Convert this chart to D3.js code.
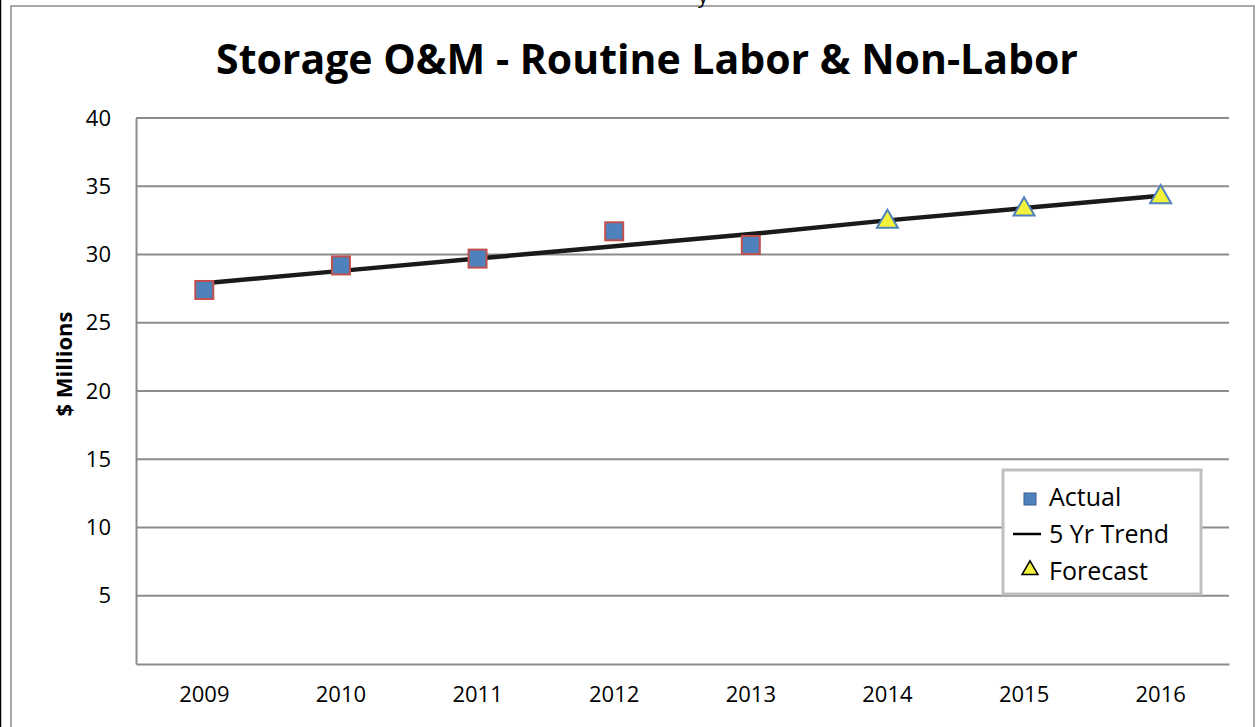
<!DOCTYPE html>
<html>
<head>
<meta charset="utf-8">
<script src="https://cdn.jsdelivr.net/npm/d3@7"></script>
<style>
  body { margin: 0; background: #fff; }
  text { font-family: "Open Sans", "Noto Sans", sans-serif; fill: #000; }
</style>
</head>
<body>
<div id="chart"></div>
<script>
const years = ["2009", "2010", "2011", "2012", "2013", "2014", "2015", "2016"]
const actualYears = ["2009", "2010", "2011", "2012", "2013"]
const actualValues = [27.4, 29.2, 29.7, 31.7, 30.7]
const forecastYears = ["2014", "2015", "2016"]
const forecastValues = [32.4, 33.3, 34.2]
const trendValues = [27.9, 28.8, 29.7, 30.6, 31.5, 32.5, 33.4, 34.3]
const yTicks = [5, 10, 15, 20, 25, 30, 35, 40]

const svgWidth = 1256
const svgHeight = 727
var margin = { left: 136, right: 27, top: 118, bottom: 63 }
var width = svgWidth - margin.left - margin.right,
    height = svgHeight - margin.top - margin.bottom

let svg = d3.select("#chart")
  .append("svg")
  .attr("width", svgWidth)
  .attr("height", svgHeight)

// page frame
svg.append("line").attr("x1", 0.5).attr("x2", 0.5).attr("y1", 0).attr("y2", svgHeight)
  .attr("stroke", "#000").attr("stroke-width", 1.5)
svg.append("rect").attr("x", 11).attr("y", 6).attr("width", 1243).attr("height", 740)
  .attr("fill", "none").attr("stroke", "#8a8a8a").attr("stroke-width", 1.5)
svg.append("text").attr("x", 703).attr("y", 3).attr("font-family", "Liberation Serif")
  .attr("font-size", "20px").attr("text-anchor", "middle").text("y")

let g = svg.append("g")
  .attr("transform", "translate(" + margin.left + ", " + margin.top + ")")

var x = d3.scaleBand().domain(years).range([0, width])
var y = d3.scaleLinear().domain([0, 40]).range([height, 0])
const cx = d => x(d) + x.bandwidth() / 2

// gridlines
g.selectAll(".grid").data(yTicks).enter().append("line")
  .attr("class", "grid")
  .attr("x1", 0).attr("x2", width)
  .attr("y1", d => y(d)).attr("y2", d => y(d))
  .attr("stroke", "#8c8c8c").attr("stroke-width", 2)

// axes
var yAxisCall = d3.axisLeft(y).tickValues(yTicks).tickSize(0).tickPadding(25)
let ya = g.append("g").attr("class", "y axis").call(yAxisCall)
ya.select(".domain").attr("stroke", "#8c8c8c").attr("stroke-width", 2)
ya.selectAll("text").attr("font-size", "22px").attr("fill", "#000")
  .attr("font-family", "Open Sans, sans-serif")

var xAxisCall = d3.axisBottom(x).tickSize(0).tickPadding(22)
let xa = g.append("g").attr("class", "x axis")
  .attr("transform", "translate(0, " + height + ")").call(xAxisCall)
xa.select(".domain").attr("stroke", "#8c8c8c").attr("stroke-width", 2)
xa.selectAll("text").attr("font-size", "22px").attr("fill", "#000")
  .attr("font-family", "Open Sans, sans-serif")

// trend line
var line = d3.line().x((d, i) => cx(years[i])).y(d => y(d))
g.append("path").datum(trendValues)
  .attr("d", line).attr("fill", "none")
  .attr("stroke", "#1a1a1a").attr("stroke-width", 4.5)

// actual squares
const sq = 18
g.selectAll(".actual").data(actualValues).enter().append("rect")
  .attr("class", "actual")
  .attr("x", (d, i) => cx(actualYears[i]) - sq / 2)
  .attr("y", d => y(d) - sq / 2)
  .attr("width", sq).attr("height", sq)
  .attr("fill", "#4f81bd").attr("stroke", "#c0504d").attr("stroke-width", 2)

// forecast triangles
var tri = d3.symbol().type(d3.symbolTriangle).size(190)
g.selectAll(".forecast").data(forecastValues).enter().append("path")
  .attr("class", "forecast")
  .attr("d", tri)
  .attr("transform", (d, i) => "translate(" + cx(forecastYears[i]) + "," + y(d) + ")")
  .attr("fill", "#f2f23c").attr("stroke", "#4f81bd").attr("stroke-width", 2)

// title
svg.append("text")
  .attr("x", 647).attr("y", 74)
  .attr("text-anchor", "middle")
  .attr("font-size", "41px").attr("font-weight", "bold")
  .text("Storage O&M - Routine Labor & Non-Labor")

// y label
svg.append("text")
  .attr("transform", "translate(72, 364) rotate(-90)")
  .attr("text-anchor", "middle")
  .attr("font-size", "22px").attr("font-weight", "bold")
  .text("$ Millions")

// legend
let lg = svg.append("g").attr("transform", "translate(1003, 470)")
lg.append("rect").attr("width", 198).attr("height", 124)
  .attr("fill", "#fff").attr("stroke", "#bfbfbf").attr("stroke-width", 3)
const legendItems = ["Actual", "5 Yr Trend", "Forecast"]
lg.selectAll(".lt").data(legendItems).enter().append("text")
  .attr("class", "lt")
  .attr("x", 46).attr("y", (d, i) => 27 + i * 37)
  .attr("dy", "0.35em")
  .attr("font-size", "25px")
  .text(d => d)
lg.append("rect").attr("x", 21).attr("y", 23).attr("width", 12).attr("height", 12)
  .attr("fill", "#4f81bd").attr("stroke", "#385d8a").attr("stroke-width", 1)
lg.append("line").attr("x1", 10).attr("x2", 38).attr("y1", 64).attr("y2", 64)
  .attr("stroke", "#000").attr("stroke-width", 2.5)
lg.append("path").attr("d", d3.symbol().type(d3.symbolTriangle).size(110))
  .attr("transform", "translate(27, 100)")
  .attr("fill", "#f2f23c").attr("stroke", "#000").attr("stroke-width", 1.5)
</script>
</body>
</html>
